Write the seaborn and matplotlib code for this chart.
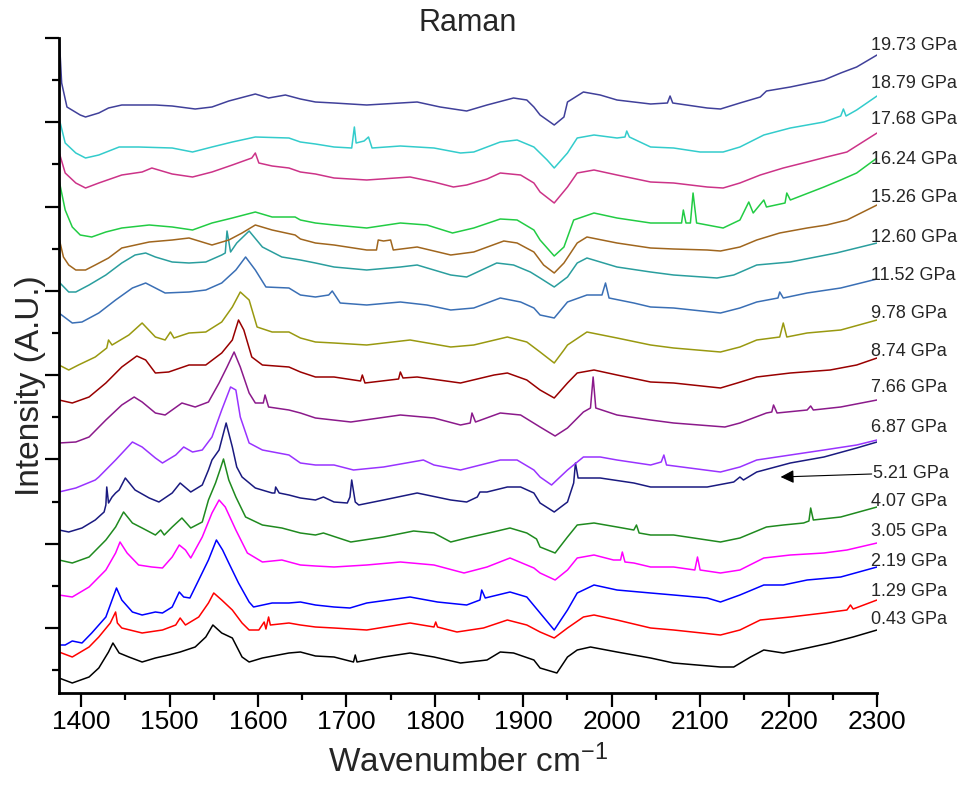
import matplotlib
matplotlib.use("Agg")
import numpy as np
import pandas as pd
import matplotlib.pyplot as plt
from matplotlib.ticker import MultipleLocator, FixedLocator, NullFormatter
import seaborn as sns

# Pressure of each Raman spectrum (GPa), bottom to top
pressures = ["0.43", "1.29", "2.19", "3.05", "4.07", "5.21", "6.87", "7.66",
             "8.74", "9.78", "11.52", "12.60", "15.26", "16.24", "17.68",
             "18.79", "19.73"]

colors = ["#000000", "#ff0000", "#0000ff", "#ff00ff", "#1f8a1f", "#1a1a80",
          "#9933ff", "#8b1a8b", "#990000", "#999910", "#3a6fb5", "#2a9e9e",
          "#a0661e", "#22cc44", "#cc3388", "#33cccc", "#40409a"]

# Stacked spectra: (wavenumber cm-1, offset intensity a.u.)
p0_43 = [(1375, 15), (1390, 10), (1409, 16), (1420, 25), (1431, 41), (1436, 50), (1443, 40),
         (1454, 36), (1469, 31), (1484, 35), (1499, 38), (1512, 41), (1529, 46), (1541, 56),
         (1549, 68), (1559, 60), (1571, 55), (1582, 36), (1590, 31), (1605, 35), (1635, 40),
         (1648, 41), (1665, 37), (1686, 36), (1708, 31), (1710, 38), (1712, 31), (1742, 36),
         (1772, 40), (1799, 36), (1829, 30), (1859, 33), (1874, 41), (1889, 40), (1912, 33),
         (1919, 25), (1938, 20), (1950, 36), (1961, 43), (1976, 46), (2006, 41), (2025, 38),
         (2044, 35), (2070, 30), (2123, 26), (2138, 26), (2157, 36), (2172, 43), (2194, 40),
         (2221, 45), (2247, 50), (2273, 56), (2300, 63)]

p1_29 = [(1375, 41), (1390, 36), (1409, 46), (1420, 56), (1433, 70), (1439, 81), (1441, 70),
         (1446, 65), (1469, 60), (1492, 63), (1507, 68), (1512, 75), (1518, 68), (1533, 76),
         (1544, 90), (1550, 100), (1559, 93), (1571, 83), (1582, 70), (1590, 63), (1601, 63),
         (1607, 71), (1609, 64), (1612, 76), (1614, 68), (1635, 70), (1648, 68), (1665, 66),
         (1686, 65), (1723, 63), (1772, 70), (1799, 66), (1801, 71), (1803, 66), (1825, 61),
         (1855, 65), (1882, 73), (1904, 68), (1919, 61), (1935, 55), (1950, 65), (1968, 76),
         (1980, 78), (2006, 73), (2044, 65), (2070, 63), (2123, 58), (2145, 63), (2168, 73),
         (2202, 76), (2240, 80), (2266, 83), (2270, 88), (2273, 84), (2300, 93)]

p2_19 = [(1375, 48), (1382, 48), (1390, 52), (1401, 50), (1412, 60), (1428, 76), (1435, 93),
         (1440, 105), (1446, 93), (1458, 81), (1469, 78), (1484, 81), (1492, 80), (1503, 86),
         (1511, 101), (1516, 96), (1523, 95), (1533, 113), (1544, 133), (1553, 153),
         (1560, 143), (1567, 130), (1578, 110), (1590, 91), (1595, 86), (1616, 90), (1635, 90),
         (1648, 91), (1665, 88), (1686, 86), (1704, 85), (1723, 90), (1772, 96), (1803, 91),
         (1836, 88), (1851, 93), (1853, 103), (1857, 95), (1885, 101), (1904, 96), (1919, 80),
         (1935, 63), (1950, 83), (1961, 100), (1980, 108), (2006, 103), (2044, 100),
         (2070, 98), (2108, 95), (2123, 91), (2145, 98), (2172, 108), (2194, 108),
         (2221, 113), (2259, 116), (2300, 126)]

p3_05 = [(1375, 98), (1390, 96), (1409, 106), (1428, 123), (1439, 140), (1444, 151), (1452, 140),
         (1465, 128), (1480, 126), (1492, 125), (1503, 136), (1511, 148), (1518, 143),
         (1524, 135), (1537, 156), (1548, 180), (1556, 193), (1563, 186), (1575, 163),
         (1588, 140), (1605, 131), (1627, 133), (1648, 128), (1665, 127), (1686, 126),
         (1723, 128), (1761, 131), (1799, 128), (1833, 120), (1859, 126), (1885, 135),
         (1912, 125), (1919, 120), (1936, 113), (1950, 123), (1961, 135), (1980, 138),
         (2002, 133), (2010, 133), (2012, 141), (2015, 131), (2025, 130), (2044, 126),
         (2070, 126), (2094, 123), (2097, 136), (2100, 123), (2123, 120), (2145, 123),
         (2172, 135), (2202, 138), (2240, 140), (2266, 143), (2300, 150)]

p4_07 = [(1375, 133), (1390, 130), (1409, 136), (1428, 153), (1439, 166), (1448, 181),
         (1458, 170), (1469, 165), (1484, 158), (1490, 163), (1494, 158), (1503, 166),
         (1514, 175), (1524, 165), (1537, 171), (1544, 193), (1552, 210), (1557, 223),
         (1561, 234), (1567, 213), (1575, 196), (1586, 176), (1605, 168), (1627, 165),
         (1648, 160), (1665, 158), (1674, 160), (1705, 151), (1742, 156), (1776, 162),
         (1799, 160), (1818, 151), (1836, 155), (1866, 161), (1885, 165), (1904, 160),
         (1915, 154), (1919, 146), (1936, 140), (1950, 156), (1961, 168), (1980, 170),
         (2006, 166), (2025, 163), (2028, 168), (2031, 160), (2044, 158), (2070, 158),
         (2123, 151), (2145, 155), (2175, 166), (2194, 168), (2217, 170), (2223, 172),
         (2225, 185), (2228, 173), (2259, 176), (2300, 186)]

p5_21 = [(1375, 163), (1386, 161), (1401, 165), (1416, 173), (1426, 181), (1428, 188),
         (1429, 206), (1431, 190), (1435, 196), (1439, 200), (1443, 203), (1450, 215),
         (1461, 203), (1477, 195), (1488, 191), (1503, 200), (1512, 210), (1524, 201),
         (1537, 208), (1544, 223), (1548, 233), (1556, 243), (1564, 270), (1571, 246),
         (1576, 226), (1582, 216), (1597, 205), (1616, 200), (1619, 200), (1620, 206),
         (1624, 200), (1635, 198), (1648, 195), (1665, 193), (1674, 196), (1686, 191),
         (1701, 190), (1704, 196), (1706, 213), (1710, 191), (1714, 188), (1742, 193),
         (1780, 200), (1818, 193), (1836, 191), (1848, 196), (1851, 201), (1859, 201),
         (1882, 206), (1897, 206), (1912, 200), (1919, 190), (1935, 181), (1950, 191),
         (1957, 210), (1959, 230), (1962, 215), (1987, 215), (2025, 210), (2044, 206),
         (2070, 206), (2108, 206), (2138, 211), (2145, 216), (2149, 213), (2164, 221),
         (2202, 230), (2240, 236), (2277, 245), (2300, 251)]

p6_87 = [(1375, 201), (1394, 205), (1416, 213), (1420, 216), (1439, 233), (1458, 251),
         (1469, 246), (1484, 235), (1492, 230), (1507, 238), (1516, 246), (1526, 241),
         (1537, 243), (1548, 256), (1559, 283), (1569, 306), (1575, 303), (1580, 276),
         (1590, 250), (1605, 243), (1635, 238), (1648, 230), (1665, 228), (1686, 228),
         (1708, 223), (1742, 226), (1787, 233), (1799, 228), (1829, 223), (1874, 233),
         (1893, 233), (1912, 223), (1919, 216), (1932, 208), (1950, 223), (1968, 236),
         (1987, 236), (2006, 233), (2044, 228), (2056, 231), (2059, 238), (2062, 228),
         (2123, 221), (2145, 226), (2164, 233), (2202, 238), (2240, 243), (2277, 248),
         (2300, 253)]

p7_66 = [(1375, 250), (1394, 251), (1409, 256), (1428, 273), (1446, 288), (1460, 296),
         (1469, 291), (1484, 280), (1495, 278), (1514, 290), (1529, 286), (1544, 291),
         (1556, 310), (1565, 326), (1573, 341), (1580, 326), (1590, 300), (1597, 290),
         (1606, 290), (1608, 298), (1612, 286), (1635, 283), (1648, 280), (1665, 275),
         (1705, 271), (1761, 278), (1799, 275), (1829, 268), (1840, 270), (1842, 280),
         (1846, 271), (1874, 280), (1897, 278), (1919, 266), (1936, 257), (1950, 265),
         (1968, 281), (1976, 285), (1979, 316), (1982, 285), (2006, 278), (2044, 273),
         (2070, 270), (2128, 266), (2145, 270), (2175, 280), (2181, 281), (2183, 288),
         (2187, 280), (2221, 283), (2225, 287), (2228, 283), (2259, 286), (2300, 293)]

p8_74 = [(1375, 293), (1390, 290), (1409, 296), (1428, 310), (1446, 326), (1463, 337),
         (1473, 333), (1484, 320), (1499, 321), (1522, 328), (1541, 328), (1559, 340),
         (1571, 353), (1578, 373), (1584, 363), (1593, 336), (1605, 328), (1635, 326),
         (1648, 321), (1665, 316), (1686, 316), (1716, 312), (1718, 318), (1721, 310),
         (1759, 314), (1761, 321), (1764, 315), (1780, 316), (1829, 310), (1867, 318),
         (1882, 320), (1904, 313), (1919, 303), (1935, 295), (1950, 310), (1961, 320),
         (1980, 323), (2006, 318), (2044, 311), (2070, 310), (2123, 305), (2142, 310),
         (2164, 316), (2202, 320), (2247, 323), (2277, 328), (2300, 335)]

p9_78 = [(1375, 328), (1386, 323), (1397, 328), (1416, 336), (1429, 345), (1431, 353),
         (1435, 348), (1454, 358), (1469, 370), (1484, 356), (1495, 353), (1501, 361),
         (1505, 355), (1522, 360), (1541, 361), (1559, 371), (1571, 386), (1580, 401),
         (1590, 393), (1599, 366), (1616, 361), (1635, 361), (1648, 355), (1665, 351),
         (1686, 350), (1723, 348), (1772, 353), (1818, 346), (1844, 348), (1882, 356),
         (1904, 351), (1919, 341), (1935, 330), (1946, 343), (1950, 348), (1972, 361),
         (2006, 355), (2044, 348), (2070, 345), (2123, 341), (2145, 346), (2164, 353),
         (2190, 356), (2194, 370), (2198, 356), (2221, 360), (2259, 363), (2300, 373)]

p11_52 = [(1375, 380), (1390, 370), (1401, 371), (1420, 380), (1439, 393), (1458, 405),
          (1473, 410), (1484, 405), (1495, 400), (1522, 401), (1541, 403), (1559, 410),
          (1575, 423), (1586, 436), (1597, 423), (1609, 406), (1635, 405), (1648, 398),
          (1665, 396), (1680, 398), (1684, 402), (1693, 390), (1723, 388), (1761, 391),
          (1791, 388), (1818, 383), (1844, 385), (1874, 395), (1897, 391), (1912, 385),
          (1919, 378), (1935, 375), (1950, 391), (1972, 398), (1989, 398), (1993, 410),
          (1997, 395), (2025, 390), (2044, 386), (2070, 385), (2123, 380), (2145, 385),
          (2164, 391), (2188, 395), (2190, 401), (2194, 395), (2221, 400), (2259, 405),
          (2300, 414)]

p12_60 = [(1375, 411), (1386, 401), (1394, 401), (1409, 408), (1428, 418), (1446, 430),
          (1461, 438), (1473, 440), (1484, 436), (1503, 431), (1522, 430), (1541, 431),
          (1559, 438), (1563, 440), (1565, 462), (1569, 441), (1576, 450), (1590, 462),
          (1605, 446), (1627, 436), (1648, 433), (1665, 430), (1686, 426), (1723, 423),
          (1761, 426), (1780, 428), (1818, 418), (1836, 416), (1870, 430), (1889, 428),
          (1908, 421), (1919, 415), (1935, 406), (1950, 416), (1961, 430), (1972, 435),
          (2006, 426), (2044, 421), (2070, 418), (2119, 415), (2138, 418), (2164, 428),
          (2202, 431), (2254, 440), (2300, 450)]

p15_26 = [(1375, 455), (1380, 436), (1386, 428), (1394, 423), (1405, 423), (1416, 428),
          (1431, 435), (1446, 445), (1477, 451), (1503, 453), (1522, 455), (1548, 448),
          (1567, 453), (1582, 460), (1597, 468), (1616, 463), (1642, 458), (1648, 454),
          (1665, 450), (1686, 448), (1723, 443), (1734, 443), (1736, 453), (1742, 452),
          (1750, 453), (1753, 443), (1780, 446), (1818, 438), (1844, 441), (1878, 452),
          (1893, 450), (1912, 441), (1923, 428), (1935, 420), (1946, 430), (1961, 450),
          (1972, 456), (2006, 450), (2044, 445), (2070, 444), (2108, 443), (2123, 442),
          (2145, 446), (2164, 453), (2190, 460), (2221, 465), (2243, 468), (2266, 473),
          (2300, 488)]

p16_24 = [(1375, 513), (1382, 483), (1390, 466), (1399, 458), (1412, 456), (1428, 461),
          (1446, 465), (1477, 468), (1503, 466), (1526, 463), (1548, 470), (1571, 475),
          (1597, 481), (1616, 476), (1642, 476), (1648, 473), (1665, 470), (1686, 468),
          (1723, 465), (1761, 470), (1791, 468), (1820, 460), (1844, 465), (1874, 474),
          (1893, 473), (1912, 463), (1919, 453), (1935, 437), (1946, 446), (1957, 473),
          (1980, 480), (2006, 475), (2044, 470), (2070, 470), (2079, 470), (2081, 483),
          (2084, 470), (2089, 470), (2092, 500), (2096, 470), (2126, 465), (2145, 473),
          (2155, 491), (2160, 480), (2172, 493), (2175, 486), (2196, 490), (2198, 500),
          (2202, 493), (2240, 506), (2259, 513), (2277, 520), (2300, 535)]

p17_68 = [(1375, 541), (1382, 520), (1394, 510), (1405, 505), (1420, 510), (1446, 518),
          (1469, 521), (1480, 525), (1503, 519), (1526, 516), (1548, 521), (1571, 528),
          (1593, 535), (1597, 540), (1601, 530), (1616, 527), (1635, 525), (1648, 521),
          (1665, 519), (1686, 515), (1723, 513), (1772, 516), (1799, 511), (1821, 506),
          (1836, 508), (1859, 514), (1874, 520), (1897, 518), (1912, 510), (1919, 501),
          (1935, 490), (1950, 506), (1961, 520), (1980, 523), (2006, 518), (2044, 511),
          (2070, 510), (2108, 506), (2126, 505), (2145, 510), (2168, 518), (2194, 525),
          (2221, 531), (2243, 536), (2266, 541), (2300, 560)]

p18_79 = [(1375, 575), (1382, 550), (1394, 540), (1405, 535), (1420, 538), (1443, 546),
          (1465, 546), (1503, 545), (1526, 541), (1548, 546), (1571, 551), (1597, 556),
          (1635, 555), (1648, 551), (1665, 549), (1686, 546), (1706, 545), (1709, 566),
          (1711, 550), (1720, 552), (1725, 556), (1729, 545), (1761, 547), (1799, 545),
          (1829, 540), (1844, 541), (1874, 551), (1893, 553), (1912, 546), (1927, 533),
          (1935, 525), (1950, 540), (1961, 555), (1980, 558), (2006, 555), (2015, 556),
          (2017, 562), (2020, 556), (2044, 546), (2070, 545), (2100, 541), (2126, 541),
          (2145, 546), (2172, 558), (2202, 565), (2240, 571), (2259, 577), (2262, 584),
          (2265, 577), (2277, 583), (2300, 597)]

p19_73 = [(1375, 660), (1378, 610), (1384, 586), (1399, 578), (1405, 576), (1420, 580),
          (1431, 585), (1446, 588), (1484, 588), (1503, 587), (1529, 584), (1548, 586),
          (1567, 592), (1597, 599), (1612, 595), (1631, 598), (1648, 594), (1665, 591),
          (1686, 590), (1723, 588), (1780, 591), (1806, 586), (1836, 582), (1859, 588),
          (1889, 595), (1904, 593), (1912, 586), (1919, 578), (1935, 568), (1946, 576),
          (1950, 591), (1968, 601), (1987, 598), (2006, 593), (2044, 589), (2063, 590),
          (2066, 597), (2069, 590), (2108, 585), (2123, 584), (2145, 590), (2168, 596),
          (2175, 602), (2202, 606), (2240, 613), (2259, 620), (2277, 626), (2300, 638)]

spectra = [p0_43, p1_29, p2_19, p3_05, p4_07, p5_21, p6_87, p7_66, p8_74, p9_78,
           p11_52, p12_60, p15_26, p16_24, p17_68, p18_79, p19_73]

xticks = [1400, 1500, 1600, 1700, 1800, 1900, 2000, 2100, 2200, 2300]

# Layout: vertical position of each pressure label (same units as the stacked spectra)
label_y = [73, 102, 131, 161, 191, 220, 266, 305, 342, 380, 418, 456, 495, 533, 573, 610, 648]

rows = []
for p, pts in zip(pressures, spectra):
    for w, v in pts:
        rows.append((p, w, v))
df = pd.DataFrame(rows, columns=["pressure", "wavenumber", "intensity"])

sns.set_style("ticks")
plt.rcParams["font.family"] = ["Liberation Sans", "DejaVu Sans"]
plt.rcParams["mathtext.fontset"] = "custom"
plt.rcParams["mathtext.rm"] = "Liberation Sans"
plt.rcParams["mathtext.it"] = "Liberation Sans:italic"

fig = plt.figure(figsize=(9.61, 8.0), dpi=100)
ax = fig.add_axes([59 / 961, 107 / 800, 818 / 961, 655 / 800])

sns.lineplot(data=df, x="wavenumber", y="intensity", hue="pressure",
             palette=dict(zip(pressures, colors)), estimator=None,
             legend=False, linewidth=1.1, ax=ax)

ax.set_xlim(1375, 2300)
ax.set_ylim(0, 655)

for p, y in zip(pressures, label_y):
    x = 2296 if p == "5.21" else 2293
    ax.text(x, y, f"{p} GPa", fontsize=13, ha="left", va="center", clip_on=False)

# Arrow pointing at the 5.21 GPa spectrum
ax.annotate("", xy=(2191, 216), xytext=(2294, 219),
            arrowprops=dict(arrowstyle="-|>", color="black", lw=0.8,
                            mutation_scale=20, shrinkA=0, shrinkB=0),
            annotation_clip=False)

ax.xaxis.set_major_locator(FixedLocator(xticks))
ax.xaxis.set_minor_locator(MultipleLocator(50))
ax.yaxis.set_major_locator(FixedLocator(np.arange(65.0, 656, 84.28)))
ax.yaxis.set_minor_locator(FixedLocator(np.arange(22.86, 656, 84.28)))
ax.yaxis.set_major_formatter(NullFormatter())

ax.tick_params(axis="both", which="major", direction="out", length=10, width=1.6,
               labelsize=19, pad=2, colors="black")
ax.tick_params(axis="both", which="minor", direction="out", length=5, width=1.6,
               colors="black")

for side in ("top", "right"):
    ax.spines[side].set_visible(False)
for side in ("left", "bottom"):
    ax.spines[side].set_linewidth(2.0)
    ax.spines[side].set_color("black")

ax.set_title("Raman", fontsize=22, pad=4)
ax.set_xlabel("Wavenumber cm$^{-1}$", fontsize=24, labelpad=8)
ax.set_ylabel("Intensity (A.U.)", fontsize=24)
ax.yaxis.set_label_coords(-0.016, 0.47)

fig.savefig("out.png", dpi=100, facecolor="white")
